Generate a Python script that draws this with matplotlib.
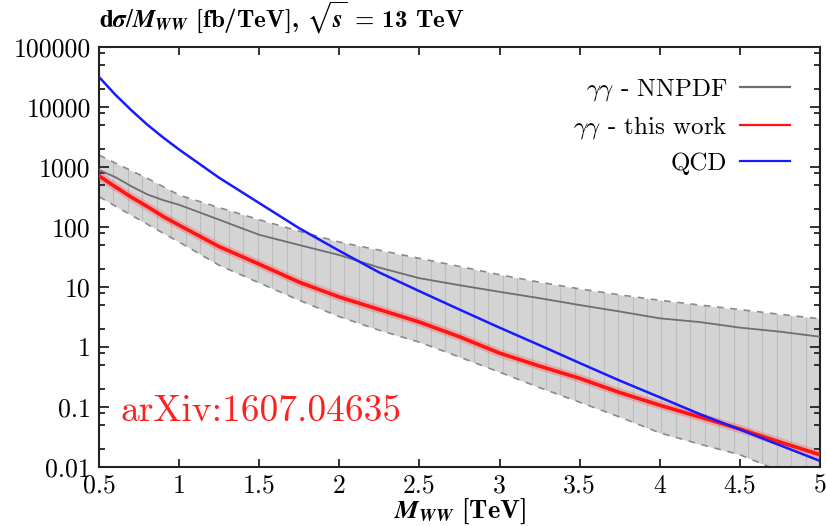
import numpy as np
import matplotlib
matplotlib.use("Agg")
import matplotlib.pyplot as plt
from matplotlib.ticker import FixedLocator, LogLocator, NullFormatter

plt.rcParams["font.family"] = "serif"
plt.rcParams["font.serif"] = ["cmr10"]
plt.rcParams["mathtext.fontset"] = "cm"
plt.rcParams["axes.formatter.use_mathtext"] = True

# M_WW [TeV] and cross sections [fb/TeV]
mass = [0.5, 0.6, 0.7, 0.8, 0.9, 1.0, 1.25, 1.5, 1.75, 2.0, 2.25, 2.5, 2.75,
        3.0, 3.25, 3.5, 3.75, 4.0, 4.25, 4.5, 4.75, 5.0]
qcd = [31600, 16200, 8900, 5100, 3100, 1950, 660, 250, 95, 40, 17.4, 8.5, 4.2,
       2.1, 1.07, 0.54, 0.275, 0.145, 0.076, 0.042, 0.023, 0.0126]
this_work = [710, 470, 316, 220, 150, 107, 47, 24, 12, 6.8, 4.2, 2.6, 1.48,
             0.79, 0.48, 0.30, 0.174, 0.107, 0.068, 0.043, 0.026, 0.016]
nnpdf = [890, 680, 480, 350, 280, 234, 132, 74, 50, 34, 21, 14, 10.7,
         8.3, 6.5, 5.0, 3.9, 3.0, 2.6, 2.1, 1.8, 1.48]
nnpdf_up = [1580, 1170, 870, 650, 470, 340, 210, 132, 85, 56, 41, 30, 22,
            16, 12, 9.3, 7.4, 6.0, 5.0, 4.2, 3.5, 2.95]
nnpdf_down = [320, 224, 158, 112, 79, 56, 23, 11.7, 6.0, 3.2, 1.9, 1.2, 0.68,
              0.38, 0.21, 0.12, 0.068, 0.037, 0.024, 0.016, 0.0085, 0.0045]

y_ticks = [0.01, 0.1, 1, 10, 100, 1000, 10000, 100000]
y_labels = ["0.01", "0.1", "1", "10", "100", "1000", "10000", "100000"]
x_ticks = [0.5, 1, 1.5, 2, 2.5, 3, 3.5, 4, 4.5, 5]
x_labels = ["0.5", "1", "1.5", "2", "2.5", "3", "3.5", "4", "4.5", "5"]

fig = plt.figure(figsize=(8.26, 5.26), dpi=100)
ax = fig.add_axes([0.1199, 0.1122, 0.8729, 0.7985])

# NNPDF uncertainty band with bin lines inside it
band = ax.fill_between(mass, nnpdf_down, nnpdf_up, color="#d4d4d4", lw=0, zorder=1)
bins = np.linspace(0.5, 5.0, 51)
vl = ax.vlines(bins, 1e-4, 1e6, color="#bdbdbd", lw=0.8, zorder=1.5)
vl.set_clip_path(band.get_paths()[0], band.get_transform())
ax.plot(mass, nnpdf_up, color="#8a8a8a", lw=1.2, ls=(0, (4, 4)), zorder=2)
ax.plot(mass, nnpdf_down, color="#8a8a8a", lw=1.2, ls=(0, (4, 4)), zorder=2)

ax.plot(mass, nnpdf, color="#6e6e6e", lw=1.3, zorder=3, label=r"$\gamma\gamma$ - NNPDF")
ax.plot(mass, this_work, color="#ff3030", lw=6, alpha=0.25, zorder=3.5)
ax.plot(mass, this_work, color="#ff1414", lw=2.6, zorder=4, label=r"$\gamma\gamma$ - this work")
ax.plot(mass, qcd, color="#1a1aff", lw=1.8, zorder=5, label="QCD")

ax.set_yscale("log")
ax.set_xlim(0.5, 5)
ax.set_ylim(0.01, 100000)
ax.yaxis.set_major_locator(FixedLocator(y_ticks))
ax.set_yticklabels(y_labels)
ax.yaxis.set_minor_locator(LogLocator(base=10, subs=[2, 5, 8]))
ax.yaxis.set_minor_formatter(NullFormatter())
ax.set_xticks(x_ticks)
ax.set_xticklabels(x_labels)

ax.tick_params(which="both", direction="in", top=True, right=True,
               labelsize=18.5, width=1.3, color="#222222")
ax.tick_params(axis="y", which="major", length=7, pad=6)
ax.tick_params(axis="y", which="minor", length=4)
ax.tick_params(axis="x", which="major", length=6, pad=5)
for s in ax.spines.values():
    s.set_linewidth(1.5)
    s.set_color("#222222")

leg = ax.legend(loc="upper right", bbox_to_anchor=(0.958, 0.928), frameon=False,
                markerfirst=False, fontsize=18, handlelength=2.0, handletextpad=0.5,
                labelspacing=0.45, borderpad=0, borderaxespad=0)
for h in leg.get_lines():
    h.set_linewidth(1.6)

ax.text(0.5 + 21 / 160.2, 10 ** (-2 + 56 / 60), "arXiv:1607.04635", color="#ff2020",
        fontsize=27, va="center", ha="left", zorder=6)

fig.text(99 / 826, 1 - 28 / 526,
         r"$\mathbf{d}\mathbfit{\sigma}/\mathbfit{M}_{\mathbfit{WW}}$ [fb/TeV], $\sqrt{\mathbfit{s}}$ = 13 TeV",
         family="cmb10", math_fontfamily="stix", fontsize=18, va="baseline", ha="left")
ax.set_xlabel(r"$\mathbfit{M}_{\mathbfit{WW}}$ [TeV]", family="cmb10",
              math_fontfamily="stix", fontsize=19, labelpad=-1)

fig.savefig("out.png", dpi=100)
